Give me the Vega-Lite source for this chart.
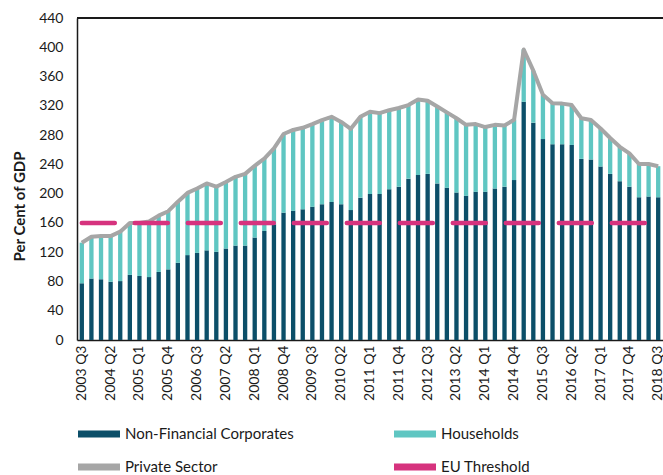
{
  "$schema": "https://vega.github.io/schema/vega-lite/v6.json",
  "width": 586,
  "height": 322,
  "autosize": {"type": "none"},
  "padding": {"left": 77, "top": 18, "right": 0, "bottom": 135},
  "background": "white",
  "config": {
    "font": "Lato",
    "view": {"stroke": null},
    "axis": {"labelColor": "#1a1a1a", "titleColor": "#1a1a1a", "domainColor": "#1a1a1a", "domainWidth": 1.5, "grid": false, "ticks": false}
  },
  "datasets": {
    "debt": [
      {"quarter":"2003 Q3","sector":"Non-Financial Corporates","value":77.5},{"quarter":"2003 Q3","sector":"Households","value":55.5},{"quarter":"2003 Q3","sector":"Private Sector","value":133},
      {"quarter":"2003 Q4","sector":"Non-Financial Corporates","value":84},{"quarter":"2003 Q4","sector":"Households","value":57},{"quarter":"2003 Q4","sector":"Private Sector","value":141},
      {"quarter":"2004 Q1","sector":"Non-Financial Corporates","value":83},{"quarter":"2004 Q1","sector":"Households","value":59},{"quarter":"2004 Q1","sector":"Private Sector","value":142},
      {"quarter":"2004 Q2","sector":"Non-Financial Corporates","value":79.5},{"quarter":"2004 Q2","sector":"Households","value":62.5},{"quarter":"2004 Q2","sector":"Private Sector","value":142},
      {"quarter":"2004 Q3","sector":"Non-Financial Corporates","value":80.5},{"quarter":"2004 Q3","sector":"Households","value":67.5},{"quarter":"2004 Q3","sector":"Private Sector","value":148},
      {"quarter":"2004 Q4","sector":"Non-Financial Corporates","value":89},{"quarter":"2004 Q4","sector":"Households","value":71},{"quarter":"2004 Q4","sector":"Private Sector","value":160},
      {"quarter":"2005 Q1","sector":"Non-Financial Corporates","value":87.5},{"quarter":"2005 Q1","sector":"Households","value":72.5},{"quarter":"2005 Q1","sector":"Private Sector","value":160},
      {"quarter":"2005 Q2","sector":"Non-Financial Corporates","value":86},{"quarter":"2005 Q2","sector":"Households","value":76},{"quarter":"2005 Q2","sector":"Private Sector","value":162},
      {"quarter":"2005 Q3","sector":"Non-Financial Corporates","value":93},{"quarter":"2005 Q3","sector":"Households","value":77},{"quarter":"2005 Q3","sector":"Private Sector","value":170},
      {"quarter":"2005 Q4","sector":"Non-Financial Corporates","value":96.5},{"quarter":"2005 Q4","sector":"Households","value":79.5},{"quarter":"2005 Q4","sector":"Private Sector","value":176},
      {"quarter":"2006 Q1","sector":"Non-Financial Corporates","value":105.5},{"quarter":"2006 Q1","sector":"Households","value":83.5},{"quarter":"2006 Q1","sector":"Private Sector","value":189},
      {"quarter":"2006 Q2","sector":"Non-Financial Corporates","value":116},{"quarter":"2006 Q2","sector":"Households","value":85},{"quarter":"2006 Q2","sector":"Private Sector","value":201},
      {"quarter":"2006 Q3","sector":"Non-Financial Corporates","value":119},{"quarter":"2006 Q3","sector":"Households","value":88},{"quarter":"2006 Q3","sector":"Private Sector","value":207},
      {"quarter":"2006 Q4","sector":"Non-Financial Corporates","value":122.5},{"quarter":"2006 Q4","sector":"Households","value":91.5},{"quarter":"2006 Q4","sector":"Private Sector","value":214},
      {"quarter":"2007 Q1","sector":"Non-Financial Corporates","value":120.5},{"quarter":"2007 Q1","sector":"Households","value":89},{"quarter":"2007 Q1","sector":"Private Sector","value":209.5},
      {"quarter":"2007 Q2","sector":"Non-Financial Corporates","value":125},{"quarter":"2007 Q2","sector":"Households","value":91},{"quarter":"2007 Q2","sector":"Private Sector","value":216},
      {"quarter":"2007 Q3","sector":"Non-Financial Corporates","value":129},{"quarter":"2007 Q3","sector":"Households","value":94},{"quarter":"2007 Q3","sector":"Private Sector","value":223},
      {"quarter":"2007 Q4","sector":"Non-Financial Corporates","value":129},{"quarter":"2007 Q4","sector":"Households","value":98},{"quarter":"2007 Q4","sector":"Private Sector","value":227},
      {"quarter":"2008 Q1","sector":"Non-Financial Corporates","value":140},{"quarter":"2008 Q1","sector":"Households","value":98},{"quarter":"2008 Q1","sector":"Private Sector","value":238},
      {"quarter":"2008 Q2","sector":"Non-Financial Corporates","value":149},{"quarter":"2008 Q2","sector":"Households","value":99},{"quarter":"2008 Q2","sector":"Private Sector","value":248},
      {"quarter":"2008 Q3","sector":"Non-Financial Corporates","value":158},{"quarter":"2008 Q3","sector":"Households","value":104},{"quarter":"2008 Q3","sector":"Private Sector","value":262},
      {"quarter":"2008 Q4","sector":"Non-Financial Corporates","value":174},{"quarter":"2008 Q4","sector":"Households","value":107.5},{"quarter":"2008 Q4","sector":"Private Sector","value":281.5},
      {"quarter":"2009 Q1","sector":"Non-Financial Corporates","value":176.5},{"quarter":"2009 Q1","sector":"Households","value":110.5},{"quarter":"2009 Q1","sector":"Private Sector","value":287},
      {"quarter":"2009 Q2","sector":"Non-Financial Corporates","value":178.5},{"quarter":"2009 Q2","sector":"Households","value":111.5},{"quarter":"2009 Q2","sector":"Private Sector","value":290},
      {"quarter":"2009 Q3","sector":"Non-Financial Corporates","value":182},{"quarter":"2009 Q3","sector":"Households","value":113},{"quarter":"2009 Q3","sector":"Private Sector","value":295},
      {"quarter":"2009 Q4","sector":"Non-Financial Corporates","value":185.5},{"quarter":"2009 Q4","sector":"Households","value":115},{"quarter":"2009 Q4","sector":"Private Sector","value":300.5},
      {"quarter":"2010 Q1","sector":"Non-Financial Corporates","value":188.5},{"quarter":"2010 Q1","sector":"Households","value":116.5},{"quarter":"2010 Q1","sector":"Private Sector","value":305},
      {"quarter":"2010 Q2","sector":"Non-Financial Corporates","value":185.5},{"quarter":"2010 Q2","sector":"Households","value":112.5},{"quarter":"2010 Q2","sector":"Private Sector","value":298},
      {"quarter":"2010 Q3","sector":"Non-Financial Corporates","value":177.5},{"quarter":"2010 Q3","sector":"Households","value":111},{"quarter":"2010 Q3","sector":"Private Sector","value":288.5},
      {"quarter":"2010 Q4","sector":"Non-Financial Corporates","value":194.5},{"quarter":"2010 Q4","sector":"Households","value":110.5},{"quarter":"2010 Q4","sector":"Private Sector","value":305},
      {"quarter":"2011 Q1","sector":"Non-Financial Corporates","value":199.5},{"quarter":"2011 Q1","sector":"Households","value":112.5},{"quarter":"2011 Q1","sector":"Private Sector","value":312},
      {"quarter":"2011 Q2","sector":"Non-Financial Corporates","value":199.5},{"quarter":"2011 Q2","sector":"Households","value":110.5},{"quarter":"2011 Q2","sector":"Private Sector","value":310},
      {"quarter":"2011 Q3","sector":"Non-Financial Corporates","value":206},{"quarter":"2011 Q3","sector":"Households","value":108},{"quarter":"2011 Q3","sector":"Private Sector","value":314},
      {"quarter":"2011 Q4","sector":"Non-Financial Corporates","value":209.5},{"quarter":"2011 Q4","sector":"Households","value":107.5},{"quarter":"2011 Q4","sector":"Private Sector","value":317},
      {"quarter":"2012 Q1","sector":"Non-Financial Corporates","value":220.5},{"quarter":"2012 Q1","sector":"Households","value":100.5},{"quarter":"2012 Q1","sector":"Private Sector","value":321},
      {"quarter":"2012 Q2","sector":"Non-Financial Corporates","value":225.5},{"quarter":"2012 Q2","sector":"Households","value":103},{"quarter":"2012 Q2","sector":"Private Sector","value":328.5},
      {"quarter":"2012 Q3","sector":"Non-Financial Corporates","value":227},{"quarter":"2012 Q3","sector":"Households","value":100},{"quarter":"2012 Q3","sector":"Private Sector","value":327},
      {"quarter":"2012 Q4","sector":"Non-Financial Corporates","value":214},{"quarter":"2012 Q4","sector":"Households","value":105},{"quarter":"2012 Q4","sector":"Private Sector","value":319},
      {"quarter":"2013 Q1","sector":"Non-Financial Corporates","value":208},{"quarter":"2013 Q1","sector":"Households","value":103},{"quarter":"2013 Q1","sector":"Private Sector","value":311},
      {"quarter":"2013 Q2","sector":"Non-Financial Corporates","value":201.5},{"quarter":"2013 Q2","sector":"Households","value":101.5},{"quarter":"2013 Q2","sector":"Private Sector","value":303},
      {"quarter":"2013 Q3","sector":"Non-Financial Corporates","value":197},{"quarter":"2013 Q3","sector":"Households","value":97},{"quarter":"2013 Q3","sector":"Private Sector","value":294},
      {"quarter":"2013 Q4","sector":"Non-Financial Corporates","value":202.5},{"quarter":"2013 Q4","sector":"Households","value":92.5},{"quarter":"2013 Q4","sector":"Private Sector","value":295},
      {"quarter":"2014 Q1","sector":"Non-Financial Corporates","value":202.5},{"quarter":"2014 Q1","sector":"Households","value":88.5},{"quarter":"2014 Q1","sector":"Private Sector","value":291},
      {"quarter":"2014 Q2","sector":"Non-Financial Corporates","value":207},{"quarter":"2014 Q2","sector":"Households","value":87},{"quarter":"2014 Q2","sector":"Private Sector","value":294},
      {"quarter":"2014 Q3","sector":"Non-Financial Corporates","value":209.5},{"quarter":"2014 Q3","sector":"Households","value":83.5},{"quarter":"2014 Q3","sector":"Private Sector","value":293},
      {"quarter":"2014 Q4","sector":"Non-Financial Corporates","value":218.5},{"quarter":"2014 Q4","sector":"Households","value":82.5},{"quarter":"2014 Q4","sector":"Private Sector","value":301},
      {"quarter":"2015 Q1","sector":"Non-Financial Corporates","value":325.5},{"quarter":"2015 Q1","sector":"Households","value":71.5},{"quarter":"2015 Q1","sector":"Private Sector","value":397},
      {"quarter":"2015 Q2","sector":"Non-Financial Corporates","value":297},{"quarter":"2015 Q2","sector":"Households","value":71},{"quarter":"2015 Q2","sector":"Private Sector","value":368},
      {"quarter":"2015 Q3","sector":"Non-Financial Corporates","value":274.5},{"quarter":"2015 Q3","sector":"Households","value":60.5},{"quarter":"2015 Q3","sector":"Private Sector","value":335},
      {"quarter":"2015 Q4","sector":"Non-Financial Corporates","value":267.5},{"quarter":"2015 Q4","sector":"Households","value":56},{"quarter":"2015 Q4","sector":"Private Sector","value":323.5},
      {"quarter":"2016 Q1","sector":"Non-Financial Corporates","value":267.5},{"quarter":"2016 Q1","sector":"Households","value":55.5},{"quarter":"2016 Q1","sector":"Private Sector","value":323},
      {"quarter":"2016 Q2","sector":"Non-Financial Corporates","value":266.5},{"quarter":"2016 Q2","sector":"Households","value":54.5},{"quarter":"2016 Q2","sector":"Private Sector","value":321},
      {"quarter":"2016 Q3","sector":"Non-Financial Corporates","value":247.5},{"quarter":"2016 Q3","sector":"Households","value":55.5},{"quarter":"2016 Q3","sector":"Private Sector","value":303},
      {"quarter":"2016 Q4","sector":"Non-Financial Corporates","value":246.5},{"quarter":"2016 Q4","sector":"Households","value":54},{"quarter":"2016 Q4","sector":"Private Sector","value":300.5},
      {"quarter":"2017 Q1","sector":"Non-Financial Corporates","value":237},{"quarter":"2017 Q1","sector":"Households","value":52},{"quarter":"2017 Q1","sector":"Private Sector","value":289},
      {"quarter":"2017 Q2","sector":"Non-Financial Corporates","value":227},{"quarter":"2017 Q2","sector":"Households","value":49},{"quarter":"2017 Q2","sector":"Private Sector","value":276},
      {"quarter":"2017 Q3","sector":"Non-Financial Corporates","value":217},{"quarter":"2017 Q3","sector":"Households","value":47},{"quarter":"2017 Q3","sector":"Private Sector","value":264},
      {"quarter":"2017 Q4","sector":"Non-Financial Corporates","value":209.5},{"quarter":"2017 Q4","sector":"Households","value":45.5},{"quarter":"2017 Q4","sector":"Private Sector","value":255},
      {"quarter":"2018 Q1","sector":"Non-Financial Corporates","value":195},{"quarter":"2018 Q1","sector":"Households","value":45.5},{"quarter":"2018 Q1","sector":"Private Sector","value":240.5},
      {"quarter":"2018 Q2","sector":"Non-Financial Corporates","value":196},{"quarter":"2018 Q2","sector":"Households","value":44.5},{"quarter":"2018 Q2","sector":"Private Sector","value":240.5},
      {"quarter":"2018 Q3","sector":"Non-Financial Corporates","value":195},{"quarter":"2018 Q3","sector":"Households","value":42.5},{"quarter":"2018 Q3","sector":"Private Sector","value":237.5},
      {"quarter":"2003 Q3","sector":"EU Threshold","value":160},
      {"quarter":"2018 Q3","sector":"EU Threshold","value":160}
    ]
  },
  "data": {"name": "debt"},
  "layer": [
    {
      "transform": [{"filter": {"field": "sector", "oneOf": ["Non-Financial Corporates", "Households"]}}],
      "mark": {"type": "bar"},
      "encoding": {
        "x": {
          "field": "quarter", "type": "ordinal",
          "scale": {"paddingInner": 0.55, "paddingOuter": 0.275},
          "axis": {
            "title": null, "labelAngle": -90, "labelFontSize": 14, "labelPadding": 5,
            "values": ["2003 Q3","2004 Q2","2005 Q1","2005 Q4","2006 Q3","2007 Q2","2008 Q1","2008 Q4","2009 Q3","2010 Q2","2011 Q1","2011 Q4","2012 Q3","2013 Q2","2014 Q1","2014 Q4","2015 Q3","2016 Q2","2017 Q1","2017 Q4","2018 Q3"]
          }
        },
        "y": {
          "field": "value", "type": "quantitative", "stack": "zero",
          "scale": {"domain": [0, 440], "nice": false},
          "axis": {
            "title": "Per Cent of GDP", "titleFontSize": 15, "titleFontWeight": "bold", "titlePadding": 11, "titleY": 188,
            "labelFontSize": 14, "labelPadding": 14, "labelOverlap": false, "tickCount": 12,
            "values": [0, 40, 80, 120, 160, 200, 240, 280, 320, 360, 400, 440]
          }
        },
        "color": {
          "field": "sector", "type": "nominal",
          "sort": ["Non-Financial Corporates", "Households", "Private Sector", "EU Threshold"],
          "scale": {"domain": ["Non-Financial Corporates", "Households", "Private Sector", "EU Threshold"], "range": ["#0c4f69", "#5fc6c2", "#a6a6a6", "#d6337e"]},
          "legend": {
            "title": null, "orient": "none", "legendX": 12, "legendY": 406, "direction": "horizontal",
            "columns": 2, "columnPadding": 100, "rowPadding": 15,
            "symbolType": "M-2.1,-0.34H2.1V0.34H-2.1Z", "symbolSize": 400, "symbolStrokeWidth": 0,
            "labelFontSize": 15, "labelColor": "#1a1a1a", "labelOffset": 16, "labelLimit": 300,
            "encode": {"symbols": {"update": {"fill": {"scale": "color", "field": "value"}, "strokeWidth": {"value": 0}, "opacity": {"value": 1}}}}
          }
        }
      }
    },
    {
      "transform": [{"filter": {"field": "sector", "equal": "Private Sector"}}],
      "mark": {"type": "line", "strokeWidth": 4, "strokeJoin": "round"},
      "encoding": {
        "x": {"field": "quarter", "type": "ordinal"},
        "y": {"field": "value", "type": "quantitative"},
        "color": {"field": "sector", "type": "nominal", "scale": {"domain": ["Non-Financial Corporates", "Households", "Private Sector", "EU Threshold"], "range": ["#0c4f69", "#5fc6c2", "#a6a6a6", "#d6337e"]}}
      }
    },
    {
      "transform": [{"filter": {"field": "sector", "equal": "EU Threshold"}}],
      "mark": {"type": "line", "strokeWidth": 4.5, "strokeCap": "round", "strokeDash": [33, 20]},
      "encoding": {
        "x": {"field": "quarter", "type": "ordinal"},
        "y": {"field": "value", "type": "quantitative"},
        "color": {"field": "sector", "type": "nominal", "scale": {"domain": ["Non-Financial Corporates", "Households", "Private Sector", "EU Threshold"], "range": ["#0c4f69", "#5fc6c2", "#a6a6a6", "#d6337e"]}}
      }
    },
    {
      "data": {"values": [{}]},
      "mark": {"type": "rule", "color": "#1a1a1a", "strokeWidth": 2},
      "encoding": {"y": {"datum": 440}}
    }
  ]
}
